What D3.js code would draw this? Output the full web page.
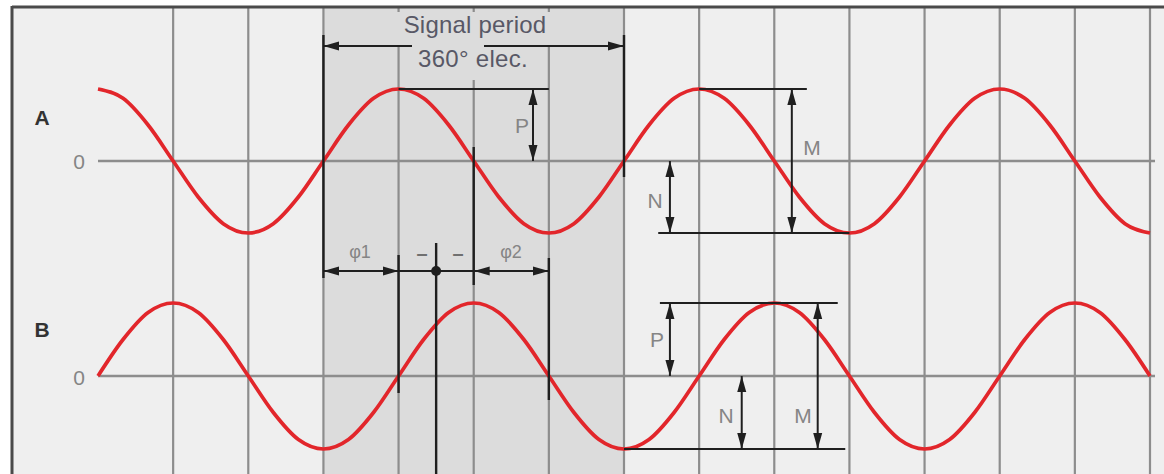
<!DOCTYPE html>
<html>
<head>
<meta charset="utf-8">
<script src="https://cdn.jsdelivr.net/npm/d3@7"></script>
<style>
  html, body { margin: 0; padding: 0; background: #ffffff; }
  svg { display: block; }
</style>
</head>
<body>
<div id="chart"></div>
<script>
// electrical degrees along the x axis, one grid line every 90 degrees
const gridDegrees = [90, 180, 270, 360, 450, 540, 630, 720, 810, 900, 990, 1080, 1170, 1260];
const signalPeriod = [270, 630];

// signal values read every 30 degrees, from 0 to 1260
const sampleDegrees = [0, 30, 60, 90, 120, 150, 180, 210, 240, 270, 300, 330, 360, 390, 420,
  450, 480, 510, 540, 570, 600, 630, 660, 690, 720, 750, 780, 810, 840, 870,
  900, 930, 960, 990, 1020, 1050, 1080, 1110, 1140, 1170, 1200, 1230, 1260];
const signalA = [1, 0.87, 0.5, 0, -0.5, -0.87, -1, -0.87, -0.5, 0, 0.5, 0.87,
  1, 0.87, 0.5, 0, -0.5, -0.87, -1, -0.87, -0.5, 0, 0.5, 0.87,
  1, 0.87, 0.5, 0, -0.5, -0.87, -1, -0.87, -0.5, 0, 0.5, 0.87,
  1, 0.87, 0.5, 0, -0.5, -0.87, -1];
const signalB = [0, 0.5, 0.87, 1, 0.87, 0.5, 0, -0.5, -0.87, -1, -0.87, -0.5,
  0, 0.5, 0.87, 1, 0.87, 0.5, 0, -0.5, -0.87, -1, -0.87, -0.5,
  0, 0.5, 0.87, 1, 0.87, 0.5, 0, -0.5, -0.87, -1, -0.87, -0.5,
  0, 0.5, 0.87, 1, 0.87, 0.5, 0];

const width = 1164;
const height = 474;

const bg = "#efefef";
const shade = "#dcdcdc";
const gridColor = "#8d8d8d";
const ink = "#1f1f1f";
const red = "#e2262b";
const labelGray = "#858585";

const x = d3.scaleLinear().domain([0, 1260]).range([98, 1150]);
const yA = d3.scaleLinear().domain([-1, 1]).range([233, 89]);
const yB = d3.scaleLinear().domain([-1, 1]).range([449, 303]);

const svg = d3.select("#chart")
  .append("svg")
    .attr("width", width)
    .attr("height", height)
    .attr("viewBox", [0, 0, width, height])
    .style("font-family", "'Liberation Sans', Arial, sans-serif");

const defs = svg.append("defs");
defs.append("marker")
    .attr("id", "head")
    .attr("markerUnits", "userSpaceOnUse")
    .attr("viewBox", "0 -5 16 10")
    .attr("refX", 16)
    .attr("refY", 0)
    .attr("markerWidth", 16)
    .attr("markerHeight", 10)
    .attr("orient", "auto-start-reverse")
  .append("path")
    .attr("d", "M0,-4.5L16,0L0,4.5Z")
    .attr("fill", ink);

// background and frame
svg.append("rect")
    .attr("x", 12).attr("y", 7)
    .attr("width", width - 12).attr("height", height - 7)
    .attr("fill", bg);

// signal period band
svg.append("rect")
    .attr("x", x(signalPeriod[0])).attr("y", 7)
    .attr("width", x(signalPeriod[1]) - x(signalPeriod[0]))
    .attr("height", height - 7)
    .attr("fill", shade);

// vertical grid
svg.append("g")
  .selectAll("line")
  .data(gridDegrees)
  .join("line")
    .attr("x1", d => x(d)).attr("x2", d => x(d))
    .attr("y1", 8).attr("y2", height)
    .attr("stroke", gridColor)
    .attr("stroke-width", 2.2);

// label box behind the title text
svg.append("rect")
    .attr("x", 393).attr("y", 12)
    .attr("width", 162).attr("height", 33)
    .attr("fill", shade);
svg.append("rect")
    .attr("x", 466).attr("y", 44)
    .attr("width", 18).attr("height", 36)
    .attr("fill", shade);

// frame lines
svg.append("line")
    .attr("x1", 12).attr("x2", width)
    .attr("y1", 7).attr("y2", 7)
    .attr("stroke", "#4a4a4a").attr("stroke-width", 3);
svg.append("line")
    .attr("x1", 12).attr("x2", 12)
    .attr("y1", 6).attr("y2", height)
    .attr("stroke", "#4a4a4a").attr("stroke-width", 3);

// zero lines
[yA, yB].forEach(y => {
  svg.append("line")
      .attr("x1", x(0)).attr("x2", x(1266))
      .attr("y1", y(0)).attr("y2", y(0))
      .attr("stroke", gridColor)
      .attr("stroke-width", 2.5);
});

// waves
const waveA = d3.line()
    .x((d, i) => x(sampleDegrees[i]))
    .y(d => yA(d))
    .curve(d3.curveMonotoneX);
const waveB = d3.line()
    .x((d, i) => x(sampleDegrees[i]))
    .y(d => yB(d))
    .curve(d3.curveMonotoneX);

svg.append("path")
    .datum(signalA)
    .attr("d", waveA)
    .attr("fill", "none")
    .attr("stroke", red)
    .attr("stroke-width", 3.7);
svg.append("path")
    .datum(signalB)
    .attr("d", waveB)
    .attr("fill", "none")
    .attr("stroke", red)
    .attr("stroke-width", 3.7);

// annotation helpers
const notes = svg.append("g");

function rule(x1, y1, x2, y2, w = 2) {
  return notes.append("line")
      .attr("x1", x1).attr("y1", y1)
      .attr("x2", x2).attr("y2", y2)
      .attr("stroke", ink)
      .attr("stroke-width", w);
}

function arrow(x1, y1, x2, y2) {
  return rule(x1, y1, x2, y2)
      .attr("marker-start", "url(#head)")
      .attr("marker-end", "url(#head)");
}

function label(tx, ty, str, size = 21, fill = labelGray, weight = "normal") {
  return notes.append("text")
      .attr("x", tx).attr("y", ty)
      .attr("text-anchor", "middle")
      .attr("font-size", size)
      .attr("font-weight", weight)
      .attr("fill", fill)
      .text(str);
}

// signal period arrow
rule(x(270), 35, x(270), 278, 2.4);
rule(x(630), 35, x(630), 177, 2.4);
arrow(x(270), 46, x(630), 46);
notes.append("rect")
    .attr("x", 412).attr("y", 41)
    .attr("width", 72).attr("height", 10)
    .attr("fill", shade);
label(475, 33, "Signal period", 24, "#585866").attr("letter-spacing", 0.2);
label(473, 67, "360° elec.", 24, "#585866").attr("letter-spacing", 0.3);

// phase markers
rule(x(450), 147, x(450), 285, 2.4);
rule(x(360), 255, x(360), 393, 2.4);
rule(x(540), 258, x(540), 400, 2.4);
rule(x(405), 243, x(405), height, 2.4);
arrow(x(270), 271, x(360), 271);
rule(x(360), 271, x(450), 271);
arrow(x(450), 271, x(540), 271);
notes.append("circle")
    .attr("cx", x(405)).attr("cy", 271)
    .attr("r", 5)
    .attr("fill", ink);
label(360, 258, "φ1", 18);
label(511, 258, "φ2", 18);
label(422, 260, "–", 20, "#707070", "bold");
label(458, 260, "–", 20, "#707070", "bold");

// signal A amplitudes
rule(x(360), yA(1), x(540), yA(1));
arrow(x(521), yA(1), x(521), yA(0));
label(522, 133, "P");
rule(x(720), yA(1), x(849), yA(1));
rule(x(671), yA(-1), x(900), yA(-1));
arrow(x(831), yA(1), x(831), yA(-1));
label(812, 155, "M");
arrow(x(685), yA(0), x(685), yA(-1));
label(655, 208, "N");

// signal B amplitudes
rule(x(673), yB(1), x(886), yB(1));
rule(x(630), yB(-1), x(895), yB(-1));
arrow(x(685), yB(1), x(685), yB(0));
label(657, 347, "P");
arrow(x(771), yB(0), x(771), yB(-1));
label(726, 423, "N");
arrow(x(862), yB(1), x(862), yB(-1));
label(803, 423, "M");

// channel names
label(42, 125, "A", 21, "#333333", "bold");
label(42, 337, "B", 21, "#333333", "bold");
label(79, 169, "0", 21);
label(79, 385, "0", 21);
</script>
</body>
</html>
